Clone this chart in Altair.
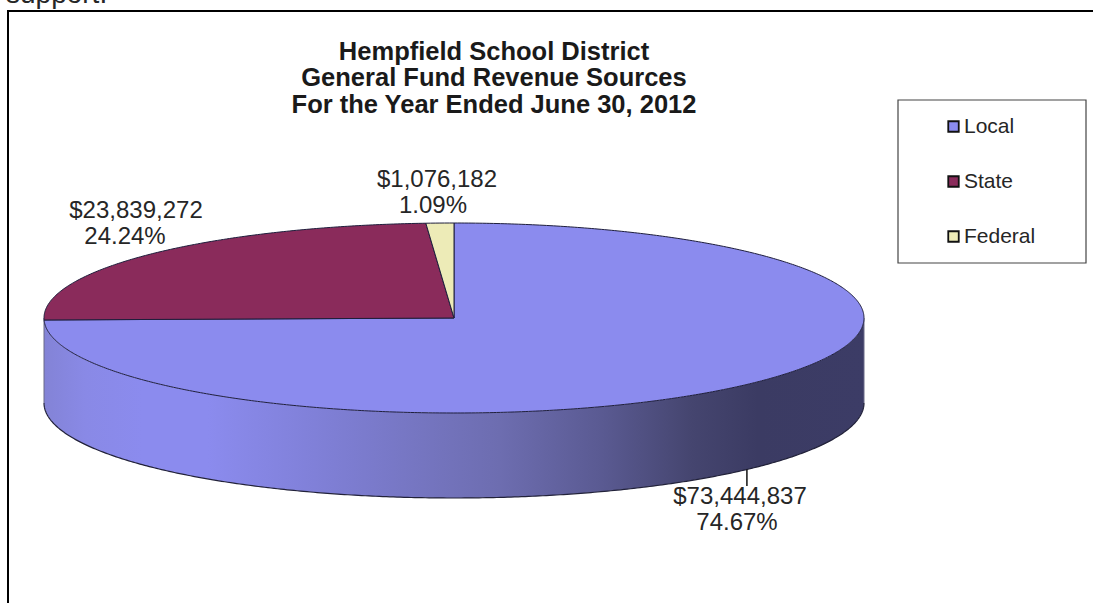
import numpy as np
import pandas as pd
import altair as alt

# Revenue figures for the fiscal year
sources = ["Local", "State", "Federal"]
amounts = [73444837, 23839272, 1076182]
shares = ["74.67%", "24.24%", "1.09%"]
slice_colors = ["#8B8BEE", "#8A2B5B", "#EDEBB7"]
title_lines = [
    "Hempfield School District",
    "General Fund Revenue Sources",
    "For the Year Ended June 30, 2012",
]

# Canvas and pie geometry, in canvas units
W, H = 1093, 603
CX, CY, RX, RY, DEPTH = 454, 318, 410, 95, 85
FONT = "Liberation Sans"
INK = "#262626"

x_scale = alt.Scale(domain=[0, W], range=[0, W], nice=False, zero=False)
y_scale = alt.Scale(domain=[0, H], range=[0, H], nice=False, zero=False)
X = lambda f: alt.X(f, type="quantitative", scale=x_scale, axis=None)
Y = lambda f: alt.Y(f, type="quantitative", scale=y_scale, axis=None)

# Clockwise from twelve o'clock: each slice is a closed outline on the disc top
total = sum(amounts)
rows = []
start = 0.0
mids = {}
for name, amount in zip(sources, amounts):
    sweep = 360.0 * amount / total
    mids[name] = start + sweep / 2
    angles = np.radians(np.linspace(start, start + sweep, max(int(sweep * 2), 3)))
    px = [CX] + list(CX + RX * np.sin(angles)) + [CX]
    py = [CY] + list(CY - RY * np.cos(angles)) + [CY]
    rows += [{"source": name, "px": a, "py": b, "seq": i} for i, (a, b) in enumerate(zip(px, py))]
    start += sweep
slices = pd.DataFrame(rows)

# Rim: the front half of the ellipse pushed down by the disc depth
front = np.radians(np.linspace(90, 270, 361))
wall = pd.DataFrame({
    "px": CX + RX * np.sin(front),
    "top": CY - RY * np.cos(front),
    "bottom": CY - RY * np.cos(front) + DEPTH,
})

wall_fill = alt.Gradient(
    gradient="linear", x1=0, x2=1, y1=0, y2=0,
    stops=[
        alt.GradientStop(color="#8383D6", offset=0.0),
        alt.GradientStop(color="#8989E6", offset=0.05),
        alt.GradientStop(color="#8B8BEE", offset=0.12),
        alt.GradientStop(color="#8B8BEE", offset=0.2),
        alt.GradientStop(color="#8080D8", offset=0.33),
        alt.GradientStop(color="#7676C2", offset=0.45),
        alt.GradientStop(color="#6D6DB0", offset=0.556),
        alt.GradientStop(color="#5A5A92", offset=0.68),
        alt.GradientStop(color="#45456F", offset=0.79),
        alt.GradientStop(color="#3B3B63", offset=0.87),
        alt.GradientStop(color="#3C3C66", offset=1.0),
    ],
)

wall_area = alt.Chart(wall).mark_area(color=wall_fill).encode(
    x=X("px"), y=Y("top"), y2="bottom"
)
wall_base = alt.Chart(wall).mark_line(color="#22223A", strokeWidth=1.2).encode(
    x=X("px"), y=Y("bottom"), order="px:Q"
)
wall_sides = alt.Chart(pd.DataFrame({
    "px": [CX - RX, CX + RX], "y1": [CY, CY], "y2": [CY + DEPTH, CY + DEPTH],
})).mark_rule(color="#6A6A88", strokeWidth=1).encode(x=X("px"), y=Y("y1"), y2="y2")

disc = alt.Chart(slices).mark_line(
    stroke="#1E1E3C", strokeWidth=1, strokeJoin="round", interpolate="linear"
).encode(
    x=X("px"),
    y=Y("py"),
    order="seq:Q",
    detail="source:N",
    fill=alt.Fill(
        "source:N",
        scale=alt.Scale(domain=sources, range=slice_colors),
        legend=alt.Legend(
            title=None,
            orient="none",
            legendX=943,
            legendY=116,
            padding=0,
            symbolType="square",
            symbolSize=110,
            symbolStrokeColor="#111111",
            symbolStrokeWidth=1.8,
            labelFont=FONT,
            labelFontSize=21,
            labelColor=INK,
            labelOffset=0,
            rowPadding=33,
            symbolOpacity=1,
        ),
    ),
)

legend_box = alt.Chart(pd.DataFrame({
    "x1": [898], "x2": [1086], "y1": [100], "y2": [263],
})).mark_rect(fillOpacity=0, stroke="#444444", strokeWidth=1.2).encode(
    x=X("x1"), x2="x2", y=Y("y1"), y2="y2"
)

# Title, value labels and frame
titles = alt.Chart(pd.DataFrame({
    "label": title_lines, "px": [494, 494, 494], "py": [52, 78, 105],
})).mark_text(font=FONT, fontSize=25.5, fontWeight="bold", color="#1A1A1A").encode(
    x=X("px"), y=Y("py"), text="label:N"
)

money = [f"${a:,}" for a in amounts]
value_labels = alt.Chart(pd.DataFrame({
    "label": [money[0], shares[0], money[1], shares[1], money[2], shares[2]],
    "px": [740, 737, 136, 125, 437, 433],
    "py": [497, 523, 211, 237, 180, 206],
})).mark_text(font=FONT, fontSize=24, color=INK).encode(
    x=X("px"), y=Y("py"), text="label:N"
)

mid = np.radians(mids["Local"])
leader_x = CX + RX * np.sin(mid)
leader_top = CY + DEPTH - RY * np.cos(mid)
leader = alt.Chart(pd.DataFrame({"px": [leader_x], "y1": [leader_top], "y2": [486]})).mark_rule(
    color="#111111", strokeWidth=1.5
).encode(x=X("px"), y=Y("y1"), y2="y2")

frame_top = alt.Chart(pd.DataFrame({"y": [11], "x1": [7], "x2": [W]})).mark_rule(
    color="#000000", strokeWidth=2
).encode(x=X("x1"), x2="x2", y=Y("y"))
frame_left = alt.Chart(pd.DataFrame({"x": [8], "y1": [10], "y2": [H]})).mark_rule(
    color="#000000", strokeWidth=2
).encode(x=X("x"), y=Y("y1"), y2="y2")

above = alt.Chart(pd.DataFrame({"label": ["support."], "px": [6], "py": [3]})).mark_text(
    font=FONT, fontSize=28, color=INK, align="left", baseline="alphabetic"
).encode(x=X("px"), y=Y("py"), text="label:N")

chart = alt.layer(
    above, frame_top, frame_left, wall_area, wall_sides, wall_base, disc, leader,
    legend_box, titles, value_labels
).properties(
    width=W, height=H, padding=0,
    autosize=alt.AutoSizeParams(type="none"),
    background="white",
).configure_view(stroke=None)

chart.save("out.html", embed_options={"renderer": "svg", "actions": False})
